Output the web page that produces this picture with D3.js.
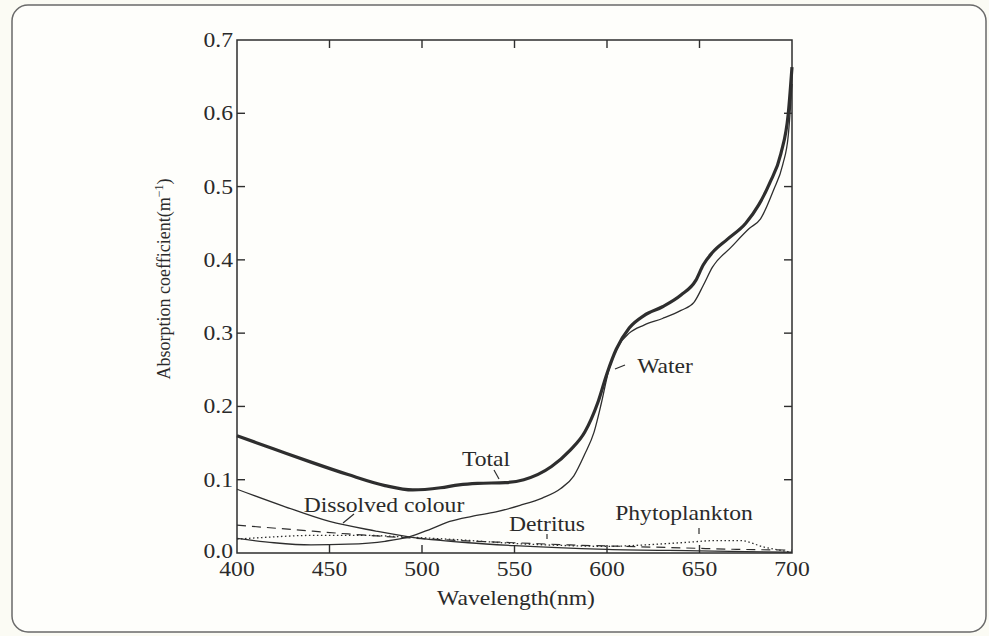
<!DOCTYPE html>
<html>
<head>
<meta charset="utf-8">
<script src="https://cdn.jsdelivr.net/npm/d3@7"></script>
<style>
  html, body { margin: 0; padding: 0; background: #fbfbf4; }
  svg { display: block; }
  text { font-family: "Liberation Serif", "Times New Roman", serif; fill: #2a2a2a; }
</style>
</head>
<body>
<svg id="chart" width="989" height="636"></svg>
<script>
// Absorption spectra of the optically active components (m^-1 vs nm)
const totalNm  = [400, 420, 440, 460, 480, 495, 510, 520, 530, 545, 555, 570, 580, 588, 595, 600, 605, 612, 620, 630, 640, 648, 652, 657, 665, 675, 682, 688, 694, 698, 700];
const totalAbs = [0.160, 0.142, 0.124, 0.107, 0.092, 0.086, 0.089, 0.093, 0.095, 0.096, 0.100, 0.118, 0.140, 0.165, 0.205, 0.245, 0.278, 0.307, 0.324, 0.336, 0.352, 0.372, 0.393, 0.410, 0.428, 0.450, 0.475, 0.505, 0.545, 0.600, 0.663];

const waterNm  = [400, 420, 440, 460, 480, 493, 505, 515, 527, 540, 553, 565, 575, 582, 588, 593, 597, 601, 606, 612, 620, 630, 640, 647, 652, 657, 667, 677, 683, 690, 695, 698, 700];
const waterAbs = [0.020, 0.014, 0.011, 0.012, 0.016, 0.022, 0.033, 0.043, 0.050, 0.056, 0.065, 0.075, 0.088, 0.105, 0.135, 0.165, 0.205, 0.250, 0.282, 0.300, 0.311, 0.320, 0.331, 0.342, 0.365, 0.390, 0.417, 0.443, 0.456, 0.495, 0.530, 0.570, 0.640];

const dissolvedNm  = [400, 425, 450, 475, 493, 525, 550, 600, 650, 700];
const dissolvedAbs = [0.087, 0.064, 0.043, 0.030, 0.022, 0.014, 0.010, 0.005, 0.003, 0.001];

const detritusNm  = [400, 430, 460, 490, 520, 550, 580, 610, 640, 670, 700];
const detritusAbs = [0.038, 0.032, 0.026, 0.021, 0.017, 0.014, 0.011, 0.009, 0.007, 0.005, 0.004];

const phytoNm  = [400, 420, 440, 470, 490, 520, 550, 580, 600, 620, 640, 660, 672, 685, 700];
const phytoAbs = [0.019, 0.022, 0.024, 0.024, 0.022, 0.018, 0.013, 0.010, 0.009, 0.011, 0.014, 0.017, 0.017, 0.008, 0.001];

const xTicks = [400, 450, 500, 550, 600, 650, 700];
const yTicks = [0.0, 0.1, 0.2, 0.3, 0.4, 0.5, 0.6, 0.7];

const svg = d3.select("#chart");
const ink = "#2e2e2e";
const stretch = 1.18;

// outer rounded frame
svg.append("rect")
  .attr("x", 12).attr("y", 5).attr("width", 974).attr("height", 627)
  .attr("rx", 16).attr("ry", 16)
  .attr("fill", "#fefefb").attr("stroke", "#6a6a6a").attr("stroke-width", 1.5);

const plotL = 237, plotR = 792, plotT = 40, plotB = 553;
const x = d3.scaleLinear().domain([400, 700]).range([plotL, plotR]);
const y = d3.scaleLinear().domain([0, 0.7]).range([plotB, plotT]);

// helper: slightly wide serif text
function label(str, px, py, anchor, size) {
  return svg.append("text")
    .attr("transform", `translate(${px},${py}) scale(${stretch},1)`)
    .attr("text-anchor", anchor || "middle")
    .attr("font-size", size || 20)
    .text(str);
}

// plot box
svg.append("rect")
  .attr("x", plotL).attr("y", plotT).attr("width", plotR - plotL).attr("height", plotB - plotT)
  .attr("fill", "none").attr("stroke", ink).attr("stroke-width", 1.5);

// inward ticks on all four sides
const tl = 8;
const innerX = xTicks.slice(1, -1), innerY = yTicks.slice(1, -1);
const tk = svg.append("g").attr("stroke", ink).attr("stroke-width", 1.4);
innerX.forEach(v => {
  tk.append("line").attr("x1", x(v)).attr("x2", x(v)).attr("y1", plotB).attr("y2", plotB - tl);
  tk.append("line").attr("x1", x(v)).attr("x2", x(v)).attr("y1", plotT).attr("y2", plotT + tl);
});
innerY.forEach(v => {
  tk.append("line").attr("x1", plotL).attr("x2", plotL + tl).attr("y1", y(v)).attr("y2", y(v));
  tk.append("line").attr("x1", plotR).attr("x2", plotR - tl).attr("y1", y(v)).attr("y2", y(v));
});

// tick labels
xTicks.forEach(v => label(String(v), x(v), plotB + 23, "middle"));
yTicks.forEach(v => label(v.toFixed(1), plotL - 4, y(v) + (v === 0 ? 5 : 7), "end"));

// axis titles
label("Wavelength(nm)", 516, 605, "middle");
const yt = svg.append("text")
  .attr("transform", "translate(170,279) rotate(-90)")
  .attr("text-anchor", "middle").attr("font-size", 18);
yt.append("tspan").text("Absorption coefficient(m");
yt.append("tspan").attr("font-size", 12).attr("dy", -7).text("−1");
yt.append("tspan").attr("dy", 7).text(")");

// curves
const line = (nm, ab) => d3.line().curve(d3.curveMonotoneX)
  .x((d, i) => x(nm[i])).y((d, i) => y(ab[i]))(nm);

const g = svg.append("g").attr("fill", "none").attr("stroke", ink);
g.append("path").attr("d", line(detritusNm, detritusAbs)).attr("stroke-width", 1.2).attr("stroke-dasharray", "9,6");
g.append("path").attr("d", line(phytoNm, phytoAbs)).attr("stroke-width", 1.3).attr("stroke-dasharray", "1.5,2.5");
g.append("path").attr("d", line(dissolvedNm, dissolvedAbs)).attr("stroke-width", 1.3);
g.append("path").attr("d", line(waterNm, waterAbs)).attr("stroke-width", 1.3);
g.append("path").attr("d", line(totalNm, totalAbs)).attr("stroke-width", 3.2);

// curve labels with leader marks
const lead = svg.append("g").attr("stroke", ink).attr("stroke-width", 1.2);
label("Total", 486, 466, "middle");
lead.append("line").attr("x1", 494).attr("y1", 470).attr("x2", 499).attr("y2", 479);
label("Water", 665, 373, "middle");
lead.append("line").attr("x1", 615).attr("y1", 369).attr("x2", 625).attr("y2", 365);
label("Dissolved colour", 384, 512, "middle");
lead.append("line").attr("x1", 354).attr("y1", 514).attr("x2", 343).attr("y2", 523);
label("Detritus", 547, 531, "middle");
lead.append("line").attr("x1", 547).attr("y1", 534).attr("x2", 547).attr("y2", 539);
label("Phytoplankton", 684, 520, "middle");
lead.append("line").attr("x1", 699).attr("y1", 528).attr("x2", 699).attr("y2", 534);
</script>
</body>
</html>
